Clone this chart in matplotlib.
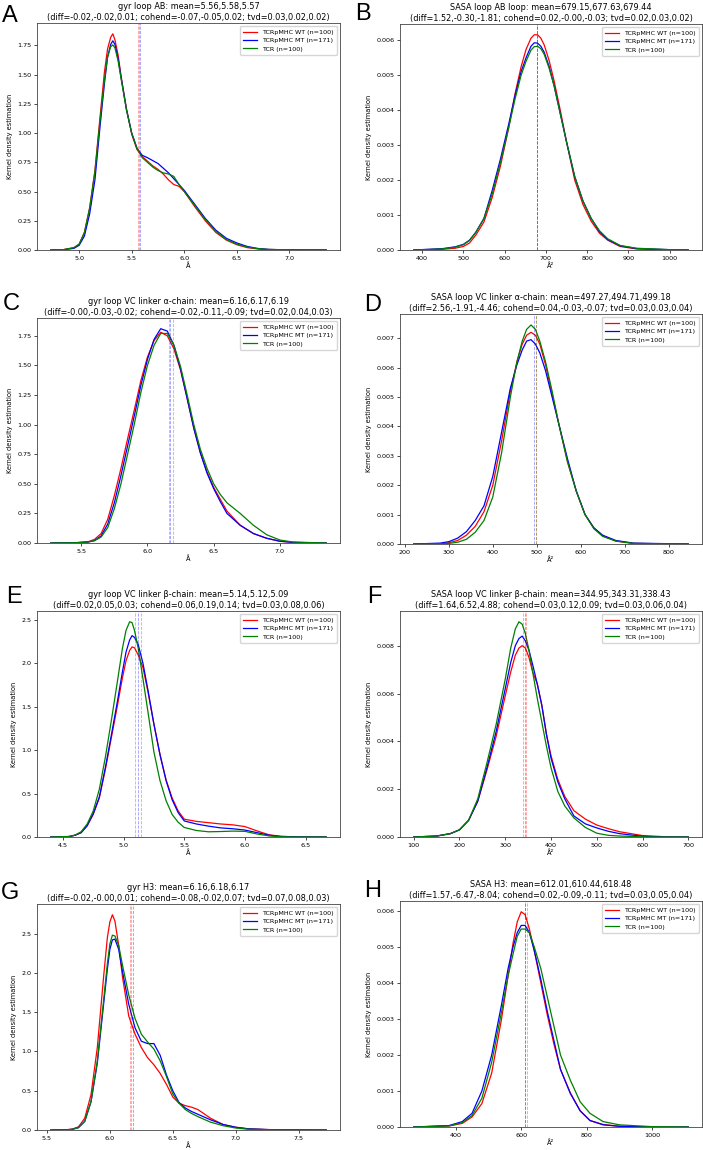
import numpy as np
import matplotlib
matplotlib.use('Agg')
import matplotlib.pyplot as plt
from matplotlib.ticker import MultipleLocator

# Legenda e cores das tres series
labels = ['TCRpMHC WT (n=100)', 'TCRpMHC MT (n=171)', 'TCR (n=100)']
colors = ['red', 'blue', 'green']
letters = ['A', 'B', 'C', 'D', 'E', 'F', 'G', 'H']

# Painel A - gyr loop AB
a_x = [4.73, 4.85, 4.95, 5.0, 5.05, 5.1, 5.15, 5.2, 5.24, 5.27, 5.3, 5.32, 5.34, 5.37, 5.4, 5.45, 5.5, 5.55,
       5.6, 5.65, 5.7, 5.75, 5.8, 5.85, 5.9, 5.95, 6.0, 6.1, 6.2, 6.3, 6.4, 6.5, 6.6, 6.7, 6.8, 7.0, 7.35]
a_wt = [0, 0.003, 0.02, 0.05, 0.15, 0.36, 0.68, 1.15, 1.52, 1.72, 1.82, 1.85, 1.8, 1.67, 1.48, 1.21, 0.99, 0.86,
        0.8, 0.76, 0.72, 0.69, 0.65, 0.6, 0.56, 0.545, 0.5, 0.37, 0.25, 0.15, 0.085, 0.045, 0.02, 0.009, 0.004,
        0.001, 0]
a_mt = [0, 0.002, 0.014, 0.04, 0.12, 0.31, 0.6, 1.07, 1.42, 1.65, 1.76, 1.79, 1.76, 1.64, 1.47, 1.2, 1.0, 0.87,
        0.81, 0.79, 0.765, 0.74, 0.7, 0.66, 0.61, 0.56, 0.51, 0.39, 0.27, 0.17, 0.1, 0.06, 0.03, 0.013, 0.005,
        0.001, 0]
a_tcr = [0, 0.003, 0.02, 0.05, 0.15, 0.36, 0.67, 1.12, 1.45, 1.65, 1.74, 1.755, 1.73, 1.62, 1.46, 1.2, 1.0, 0.87,
         0.79, 0.75, 0.71, 0.68, 0.66, 0.65, 0.63, 0.56, 0.5, 0.38, 0.26, 0.16, 0.09, 0.05, 0.025, 0.011, 0.005,
         0.001, 0]
a_means = [5.56, 5.58, 5.57]

# Painel B - SASA loop AB
b_x = [380, 450, 480, 500, 515, 530, 550, 570, 590, 610, 625, 640, 652, 664, 672, 680, 688, 696, 708, 720,
       735, 750, 770, 790, 810, 830, 850, 880, 920, 1000, 1045]
b_wt = [0, 0.00002, 0.00005, 0.0001, 0.0002, 0.00042, 0.0008, 0.0015, 0.0024, 0.0035, 0.00445, 0.00524,
        0.00574, 0.00606, 0.00616, 0.00616, 0.00606, 0.00587, 0.00542, 0.00484, 0.004, 0.0031, 0.002, 0.0013,
        0.00082, 0.00048, 0.00028, 0.0001, 0.00003, 0.000005, 0]
b_mt = [0, 0.00004, 0.00009, 0.00016, 0.00028, 0.0005, 0.0009, 0.0017, 0.0026, 0.0036, 0.0044, 0.0051, 0.0055,
        0.00583, 0.00593, 0.00592, 0.00583, 0.00566, 0.00525, 0.0047, 0.0039, 0.0031, 0.0021, 0.0014, 0.0009,
        0.00052, 0.0003, 0.00012, 0.00004, 0.00001, 0]
b_tcr = [0, 0.00003, 0.00008, 0.00015, 0.00027, 0.0005, 0.0009, 0.0016, 0.0025, 0.0035, 0.0043, 0.005, 0.0054,
         0.00572, 0.00582, 0.00583, 0.00576, 0.0056, 0.0052, 0.0047, 0.0039, 0.0031, 0.0021, 0.0014, 0.0009,
         0.00055, 0.00032, 0.00013, 0.00005, 0.00001, 0]
b_means = [679.15, 677.63, 679.44]

# Painel C - gyr loop VC linker alfa
c_x = [5.27, 5.45, 5.55, 5.6, 5.65, 5.7, 5.75, 5.8, 5.85, 5.9, 5.95, 6.0, 6.05, 6.1, 6.15, 6.2, 6.25, 6.3,
       6.35, 6.4, 6.45, 6.5, 6.55, 6.6, 6.7, 6.8, 6.9, 7.0, 7.1, 7.35]
c_wt = [0, 0.002, 0.01, 0.03, 0.08, 0.2, 0.4, 0.63, 0.88, 1.12, 1.37, 1.57, 1.71, 1.78, 1.75, 1.64, 1.46, 1.22,
        0.97, 0.76, 0.6, 0.47, 0.37, 0.27, 0.15, 0.08, 0.04, 0.015, 0.005, 0]
c_mt = [0, 0.002, 0.008, 0.02, 0.06, 0.16, 0.34, 0.57, 0.82, 1.07, 1.33, 1.55, 1.72, 1.81, 1.79, 1.67, 1.47, 1.22,
        0.97, 0.76, 0.59, 0.46, 0.35, 0.25, 0.15, 0.08, 0.04, 0.015, 0.005, 0]
c_tcr = [0, 0.002, 0.008, 0.02, 0.05, 0.13, 0.29, 0.5, 0.75, 1.0, 1.27, 1.5, 1.67, 1.77, 1.77, 1.67, 1.49, 1.25,
         1.0, 0.79, 0.63, 0.5, 0.41, 0.34, 0.25, 0.15, 0.07, 0.025, 0.008, 0]
c_means = [6.16, 6.17, 6.19]

# Painel D - SASA loop VC linker alfa
d_x = [220, 280, 300, 320, 340, 360, 380, 400, 420, 440, 455, 467, 477, 487, 497, 507, 520, 535, 550, 570,
       590, 610, 630, 650, 680, 720, 845]
d_wt = [0, 0.00001, 0.00004, 0.00012, 0.0003, 0.0006, 0.0011, 0.002, 0.0035, 0.0052, 0.0062, 0.0068, 0.0071,
        0.0072, 0.0071, 0.0068, 0.0061, 0.0051, 0.0041, 0.0028, 0.0018, 0.001, 0.00055, 0.00028, 0.0001,
        0.00002, 0]
d_mt = [0, 0.00003, 0.00008, 0.0002, 0.00042, 0.0008, 0.0013, 0.0023, 0.0038, 0.0053, 0.0061, 0.0066, 0.0069,
        0.00695, 0.0068, 0.0065, 0.0059, 0.005, 0.0041, 0.0029, 0.0018, 0.001, 0.00055, 0.0003, 0.00012,
        0.00003, 0]
d_tcr = [0, 0.00001, 0.00002, 0.00006, 0.00016, 0.0004, 0.0008, 0.0016, 0.0031, 0.005, 0.0062, 0.0069, 0.0073,
         0.00745, 0.0073, 0.0069, 0.0062, 0.0052, 0.0041, 0.0028, 0.0018, 0.001, 0.00052, 0.00026, 0.0001,
         0.00002, 0]
d_means = [497.27, 494.71, 499.18]

# Painel E - gyr loop VC linker beta
e_x = [4.40, 4.55, 4.6, 4.65, 4.7, 4.75, 4.8, 4.85, 4.9, 4.95, 4.99, 5.02, 5.05, 5.07, 5.09, 5.12, 5.16, 5.2,
       5.25, 5.3, 5.35, 5.4, 5.45, 5.5, 5.6, 5.7, 5.8, 5.9, 6.0, 6.1, 6.2, 6.3, 6.45, 6.67]
e_wt = [0, 0.005, 0.02, 0.05, 0.13, 0.26, 0.45, 0.78, 1.15, 1.52, 1.83, 2.03, 2.15, 2.19, 2.18, 2.1, 1.95, 1.68,
        1.3, 0.95, 0.66, 0.45, 0.3, 0.205, 0.18, 0.165, 0.15, 0.14, 0.12, 0.07, 0.025, 0.007, 0.001, 0]
e_mt = [0, 0.005, 0.02, 0.05, 0.13, 0.27, 0.46, 0.8, 1.18, 1.57, 1.9, 2.13, 2.27, 2.32, 2.3, 2.22, 2.0, 1.7,
        1.3, 0.95, 0.65, 0.43, 0.28, 0.185, 0.15, 0.125, 0.105, 0.095, 0.08, 0.05, 0.02, 0.006, 0.001, 0]
e_tcr = [0, 0.006, 0.022, 0.06, 0.15, 0.3, 0.55, 0.92, 1.35, 1.8, 2.17, 2.38, 2.48, 2.47, 2.38, 2.18, 1.82, 1.45,
         0.98, 0.65, 0.42, 0.26, 0.17, 0.11, 0.075, 0.06, 0.063, 0.068, 0.065, 0.035, 0.012, 0.003, 0, 0]
e_means = [5.14, 5.12, 5.09]

# Painel F - SASA loop VC linker beta
f_x = [100, 150, 180, 200, 220, 240, 260, 280, 300, 312, 322, 330, 337, 344, 352, 360, 370, 380, 390, 400,
       415, 430, 450, 475, 500, 525, 550, 600, 650, 700]
f_wt = [0, 0.00004, 0.00014, 0.0003, 0.0007, 0.0015, 0.0028, 0.0042, 0.0059, 0.0069, 0.0076, 0.0079, 0.008,
        0.0079, 0.0075, 0.0069, 0.0064, 0.0055, 0.0043, 0.0034, 0.0024, 0.0017, 0.0011, 0.00075, 0.0005,
        0.00035, 0.00022, 0.00006, 0.00001, 0]
f_mt = [0, 0.00004, 0.00014, 0.0003, 0.0007, 0.0015, 0.0029, 0.0044, 0.0062, 0.0073, 0.008, 0.0083, 0.0084,
        0.0082, 0.0078, 0.0072, 0.0064, 0.0055, 0.0043, 0.0033, 0.0023, 0.0016, 0.00088, 0.00055, 0.00038,
        0.00024, 0.00014, 0.00003, 0, 0]
f_tcr = [0, 0.00004, 0.00014, 0.0003, 0.0007, 0.0016, 0.0031, 0.0047, 0.0066, 0.0079, 0.0087, 0.009, 0.0089,
         0.0085, 0.0078, 0.0069, 0.0058, 0.0048, 0.0038, 0.0029, 0.0019, 0.0013, 0.0008, 0.0004, 0.00016,
         0.00007, 0.00004, 0.00001, 0, 0]
f_means = [344.95, 343.31, 338.43]

# Painel G - gyr H3
g_x = [5.53, 5.65, 5.7, 5.75, 5.8, 5.85, 5.9, 5.95, 5.98, 6.0, 6.02, 6.04, 6.07, 6.1, 6.15, 6.2, 6.25, 6.3,
       6.35, 6.4, 6.45, 6.5, 6.55, 6.6, 6.65, 6.7, 6.8, 6.9, 7.0, 7.1, 7.3, 7.72]
g_wt = [0, 0.003, 0.012, 0.04, 0.15, 0.45, 1.05, 1.95, 2.45, 2.65, 2.74, 2.66, 2.35, 1.95, 1.45, 1.22, 1.05,
        0.92, 0.83, 0.72, 0.58, 0.42, 0.34, 0.31, 0.29, 0.26, 0.15, 0.07, 0.035, 0.015, 0.003, 0]
g_mt = [0, 0.002, 0.008, 0.03, 0.11, 0.36, 0.85, 1.6, 2.05, 2.3, 2.42, 2.43, 2.3, 2.02, 1.6, 1.3, 1.13, 1.1,
        1.1, 0.95, 0.7, 0.5, 0.35, 0.28, 0.235, 0.2, 0.13, 0.07, 0.035, 0.015, 0.003, 0]
g_tcr = [0, 0.002, 0.008, 0.03, 0.11, 0.36, 0.88, 1.65, 2.12, 2.37, 2.48, 2.47, 2.35, 2.1, 1.72, 1.42, 1.22,
         1.12, 1.03, 0.88, 0.68, 0.46, 0.34, 0.26, 0.21, 0.17, 0.1, 0.055, 0.025, 0.01, 0.002, 0]
g_means = [6.16, 6.18, 6.17]

# Painel H - SASA H3
h_x = [272, 380, 420, 450, 480, 510, 540, 560, 575, 588, 600, 612, 625, 640, 660, 680, 700, 720, 750, 780,
       810, 850, 900, 1000, 1110]
h_wt = [0, 0.00003, 0.0001, 0.00028, 0.00065, 0.0015, 0.003, 0.0042, 0.0051, 0.0057, 0.00598, 0.0059, 0.0055,
        0.0049, 0.004, 0.0031, 0.0023, 0.0016, 0.00095, 0.00045, 0.00018, 0.00007, 0.00002, 0, 0]
h_mt = [0, 0.00004, 0.00015, 0.00038, 0.001, 0.002, 0.0034, 0.0044, 0.005, 0.0054, 0.0056, 0.0056, 0.0054,
        0.0049, 0.0041, 0.0032, 0.0024, 0.0016, 0.00093, 0.00045, 0.00018, 0.00006, 0.00002, 0, 0]
h_tcr = [0, 0.00003, 0.00012, 0.00032, 0.0008, 0.0018, 0.0032, 0.0042, 0.0048, 0.0053, 0.0055, 0.0055, 0.0054,
         0.005, 0.0044, 0.0036, 0.0028, 0.002, 0.0013, 0.0007, 0.00038, 0.00015, 0.00006, 0.00001, 0]
h_means = [612.01, 610.44, 618.48]

titles = [
    'gyr loop AB: mean=5.56,5.58,5.57\n(diff=-0.02,-0.02,0.01; cohend=-0.07,-0.05,0.02; tvd=0.03,0.02,0.02)',
    'SASA loop AB loop: mean=679.15,677.63,679.44\n(diff=1.52,-0.30,-1.81; cohend=0.02,-0.00,-0.03; tvd=0.02,0.03,0.02)',
    'gyr loop VC linker α-chain: mean=6.16,6.17,6.19\n(diff=-0.00,-0.03,-0.02; cohend=-0.02,-0.11,-0.09; tvd=0.02,0.04,0.03)',
    'SASA loop VC linker α-chain: mean=497.27,494.71,499.18\n(diff=2.56,-1.91,-4.46; cohend=0.04,-0.03,-0.07; tvd=0.03,0.03,0.04)',
    'gyr loop VC linker β-chain: mean=5.14,5.12,5.09\n(diff=0.02,0.05,0.03; cohend=0.06,0.19,0.14; tvd=0.03,0.08,0.06)',
    'SASA loop VC linker β-chain: mean=344.95,343.31,338.43\n(diff=1.64,6.52,4.88; cohend=0.03,0.12,0.09; tvd=0.03,0.06,0.04)',
    'gyr H3: mean=6.16,6.18,6.17\n(diff=-0.02,-0.00,0.01; cohend=-0.08,-0.02,0.07; tvd=0.07,0.08,0.03)',
    'SASA H3: mean=612.01,610.44,618.48\n(diff=1.57,-6.47,-8.04; cohend=0.02,-0.09,-0.11; tvd=0.03,0.05,0.04)',
]
xlabels = ['Å', 'Å²', 'Å', 'Å²', 'Å', 'Å²', 'Å', 'Å²']
xsteps = [0.5, 100, 0.5, 100, 0.5, 100, 0.5, 200]
ysteps = [0.25, 0.001, 0.25, 0.001, 0.5, 0.002, 0.5, 0.001]

paineis = [
    (a_x, [a_wt, a_mt, a_tcr], a_means),
    (b_x, [b_wt, b_mt, b_tcr], b_means),
    (c_x, [c_wt, c_mt, c_tcr], c_means),
    (d_x, [d_wt, d_mt, d_tcr], d_means),
    (e_x, [e_wt, e_mt, e_tcr], e_means),
    (f_x, [f_wt, f_mt, f_tcr], f_means),
    (g_x, [g_wt, g_mt, g_tcr], g_means),
    (h_x, [h_wt, h_mt, h_tcr], h_means),
]

# posicao dos eixos em pixels (esq, topo, dir, base) e das letras (x, linha de base)
W, H = 703, 1150
caixas = [(37, 23, 340, 250), (400, 24, 702, 250),
          (37, 318, 340, 543), (400, 314, 702, 544),
          (37, 611, 340, 837), (400, 611, 702, 837),
          (37, 904, 340, 1130), (400, 901, 702, 1127)]
pos_letras = [(2, 22), (355, 20), (3, 310), (364, 311), (6, 603), (367, 603), (1, 899), (364, 897)]

fig = plt.figure(figsize=(W / 100, H / 100), dpi=100)

for i, (x, series, means) in enumerate(paineis):
    l, t, r, b = caixas[i]
    ax = fig.add_axes([l / W, 1 - b / H, (r - l) / W, (b - t) / H])
    for y, c, lab in zip(series, colors, labels):
        ax.plot(x, y, color=c, lw=0.9, label=lab)
    for m, c in zip(means, colors):
        ax.axvline(m, color=c, ls='--', lw=0.6, alpha=0.4)
    ax.set_ylim(bottom=0)
    ax.xaxis.set_major_locator(MultipleLocator(xsteps[i]))
    ax.yaxis.set_major_locator(MultipleLocator(ysteps[i]))
    ax.tick_params(labelsize=4.6, length=2, width=0.5, pad=2)
    for s in ax.spines.values():
        s.set_linewidth(0.6)
        s.set_color('#444444')
    ax.set_xlabel(xlabels[i], fontsize=4.8, labelpad=1.5)
    ax.set_ylabel('Kernel density estimation', fontsize=4.8, labelpad=3)
    ax.set_title(titles[i], fontsize=5.9, pad=2, linespacing=1.25)
    ax.legend(loc='upper right', fontsize=4.6, handlelength=2.2, borderpad=0.5, labelspacing=0.45)
    lx, ly = pos_letras[i]
    fig.text(lx / W, 1 - ly / H, letters[i], fontsize=17, family='Liberation Sans', va='baseline')

fig.savefig('out.png', dpi=100)
